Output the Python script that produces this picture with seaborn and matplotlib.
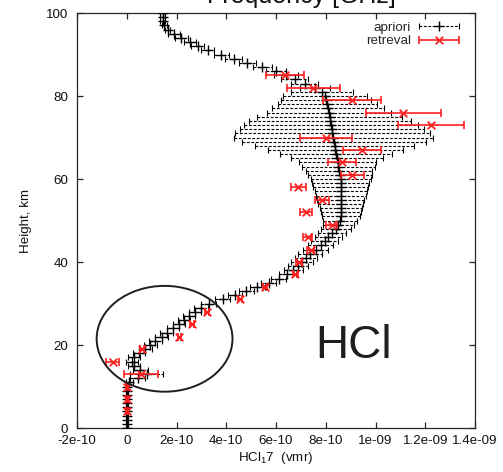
import numpy as np
import matplotlib
matplotlib.use("Agg")
import matplotlib.pyplot as plt
import seaborn as sns
from matplotlib.patches import Ellipse
from matplotlib.container import ErrorbarContainer
from matplotlib.legend_handler import HandlerErrorbar

# ---------------- data (vmr values in units of 1e-10) ----------------
apriori_height = list(range(0, 101))
apriori_vmr = [
    0, 0, 0, 0, 0, 0, 0, 0, 0, 0,                 # 0-9
    0.0, 0.1, 0.45, 0.8, 0.55, 0.3, 0.2, 0.3, 0.5, 0.75,   # 10-19
    0.95, 1.15, 1.4, 1.6, 1.85, 2.1, 2.3, 2.5, 2.75, 3.0,  # 20-29
    3.3, 3.85, 4.35, 4.8, 5.25, 5.7, 6.1, 6.45, 6.7, 6.9,  # 30-39
    7.05, 7.2, 7.35, 7.6, 7.8, 7.95, 8.1, 8.25, 8.4, 8.5,  # 40-49
    8.57, 8.6, 8.6, 8.6, 8.6, 8.6, 8.6, 8.6, 8.6, 8.6,     # 50-59
    8.6, 8.57, 8.54, 8.51, 8.48, 8.45, 8.42, 8.39, 8.36, 8.33,  # 60-69
    8.30, 8.27, 8.24, 8.21, 8.18, 8.15, 8.12, 8.09, 8.06, 8.02,  # 70-79
    7.97, 7.85, 7.55, 7.15, 6.75, 6.4, 6.0, 5.45, 4.85, 4.3,   # 80-89
    3.8, 3.25, 2.85, 2.55, 2.2, 1.9, 1.65, 1.5, 1.45, 1.45,    # 90-99
    1.45,                                                       # 100
]
apriori_err = [
    0.03, 0.03, 0.03, 0.03, 0.03, 0.03, 0.03, 0.03, 0.03, 0.03,   # 0-9
    0.05, 0.15, 0.3, 0.65, 0.3, 0.25, 0.25, 0.25, 0.25, 0.25,     # 10-19
    0.25, 0.25, 0.25, 0.25, 0.25, 0.25, 0.25, 0.25, 0.25, 0.28,   # 20-29
    0.3, 0.3, 0.3, 0.3, 0.3, 0.3, 0.32, 0.35, 0.38, 0.4,          # 30-39
    0.45, 0.45, 0.48, 0.5, 0.5, 0.55, 0.55, 0.55, 0.6, 0.62,      # 40-49
    0.7, 0.76, 0.8, 0.85, 0.9, 0.95, 1.0, 1.05, 1.1, 1.15,        # 50-59
    1.2, 1.27, 1.33, 1.45, 1.55, 1.85, 2.25, 2.7, 3.2, 3.7,       # 60-69
    4.0, 3.9, 3.7, 3.5, 3.25, 2.9, 2.5, 2.25, 2.0, 1.8,           # 70-79
    1.67, 1.24, 0.6, 0.55, 0.55, 0.5, 0.4, 0.38, 0.35, 0.35,      # 80-89
    0.3, 0.25, 0.25, 0.25, 0.25, 0.25, 0.1, 0.1, 0.1, 0.1,        # 90-99
    0.1,                                                          # 100
]

retrieval_height = [85, 82, 79, 76, 73, 70, 67, 64, 61, 58, 55, 52, 49, 46,
                    43, 40, 37, 34, 31, 28, 25, 22, 19, 16, 13, 10, 7, 4]
retrieval_vmr = [6.36, 7.5, 9.05, 11.12, 12.23, 8.01, 9.47, 8.64, 9.07, 6.9,
                 7.84, 7.21, 8.24, 7.27, 7.40, 6.94, 6.78, 5.56, 4.55, 3.24,
                 2.62, 2.11, 0.60, -0.56, 0.56, 0.0, 0.0, 0.0]
retrieval_err = [0.78, 1.07, 1.16, 1.5, 1.34, 1.05, 0.77, 0.56, 0.45, 0.31,
                 0.29, 0.23, 0.22, 0.17, 0.14, 0.12, 0.09, 0.08, 0.08, 0.08,
                 0.07, 0.06, 0.08, 0.26, 0.69, 0.03, 0.03, 0.03]

xtick_values = [-2e-10, 0, 2e-10, 4e-10, 6e-10, 8e-10, 1e-9, 1.2e-9, 1.4e-9]
xtick_labels = ["-2e-10", "0", "2e-10", "4e-10", "6e-10", "8e-10",
                "1e-09", "1.2e-09", "1.4e-09"]
ytick_values = [0, 20, 40, 60, 80, 100]
ytick_labels = ["0", "20", "40", "60", "80", "100"]

SCALE = 1e-10
apriori_df = {"height": np.array(apriori_height, dtype=float),
              "vmr": np.array(apriori_vmr) * SCALE,
              "err": np.array(apriori_err) * SCALE}
retrieval_df = {"height": np.array(retrieval_height, dtype=float),
                "vmr": np.array(retrieval_vmr) * SCALE,
                "err": np.array(retrieval_err) * SCALE}

# ---------------- style ----------------
sns.set_theme(style="ticks")
plt.rcParams["font.family"] = ["Liberation Sans", "DejaVu Sans"]
plt.rcParams["mathtext.fontset"] = "custom"
plt.rcParams["mathtext.rm"] = "Liberation Sans"
plt.rcParams["mathtext.it"] = "Liberation Sans:italic"
plt.rcParams["mathtext.default"] = "regular"

fig = plt.figure(figsize=(5.03, 4.72), dpi=100)
ax = fig.add_axes([0.1531, 0.0932, 0.7913, 0.8792])

RED = "#ff2020"
EDGE = "#262626"

# apriori: dashed error bars + '+' markers
eb_a = ax.errorbar(apriori_df["vmr"], apriori_df["height"], xerr=apriori_df["err"],
                   fmt="none", ecolor="black", elinewidth=0.8, capsize=2,
                   capthick=0.8, zorder=2)
for bl in eb_a[2]:
    bl.set_linestyle((0, (2.5, 1.5)))
sns.scatterplot(x=apriori_df["vmr"], y=apriori_df["height"], ax=ax,
                marker="+", s=45, color="black", linewidth=1.0, zorder=3)
pc_a = ax.collections[-1]

# retrieval: solid red error bars + 'x' markers
eb_r = ax.errorbar(retrieval_df["vmr"], retrieval_df["height"], xerr=retrieval_df["err"],
                   fmt="none", ecolor=RED, elinewidth=1.2, capsize=2.8,
                   capthick=1.2, zorder=4)
sns.scatterplot(x=retrieval_df["vmr"], y=retrieval_df["height"], ax=ax,
                marker="x", s=30, color=RED, linewidth=1.3, zorder=5)
pc_r = ax.collections[-1]

# ellipse highlight
ax.add_patch(Ellipse((1.52e-10, 21.5), width=5.46e-10, height=25.5,
                     fill=False, edgecolor="#1e1e1e", linewidth=1.4, zorder=6))

# big annotation
ax.text(0.696, 0.198, "HCl", transform=ax.transAxes, fontsize=33,
        color="#1e1e1e", ha="center", va="center")

# axes
ax.set_xlim(-2e-10, 1.4e-9)
ax.set_ylim(0, 100)
ax.set_xticks(xtick_values)
ax.set_xticklabels(xtick_labels)
ax.set_yticks(ytick_values)
ax.set_yticklabels(ytick_labels)
ax.tick_params(direction="in", length=4.5, width=0.9, top=True, right=True,
               colors=EDGE, labelcolor="#111111", labelsize=9.6)
ax.tick_params(axis="x", pad=5)
ax.tick_params(axis="y", pad=6.5)
for sp in ax.spines.values():
    sp.set_visible(True)
    sp.set_color(EDGE)
    sp.set_linewidth(0.9)
ax.set_xlabel("HCl$_1$7  (vmr)", fontsize=9.6, labelpad=2, color="#111111")
ax.set_ylabel("Height, km", fontsize=9.6, labelpad=10, color="#111111")
ax.grid(False)

# legend (gnuplot-like: text then sample)
leg = ax.legend([(eb_a, pc_a), (eb_r, pc_r)], ["apriori", "retreval"],
                handler_map={ErrorbarContainer: HandlerErrorbar(xerr_size=1.5)},
                loc="upper right", bbox_to_anchor=(0.96, 0.98),
                markerfirst=False, frameon=False, fontsize=9.6,
                handlelength=3.0, handletextpad=0.6, labelspacing=0.1,
                borderpad=0, borderaxespad=0, scatteryoffsets=[0.5])

# partially visible title at the top edge (cut off as in the source)
fig.text(0.60, 0.9935, "Frequency [GHz]", fontsize=18, ha="center",
         va="baseline", color="#111111")

fig.savefig("out.png", dpi=100)
